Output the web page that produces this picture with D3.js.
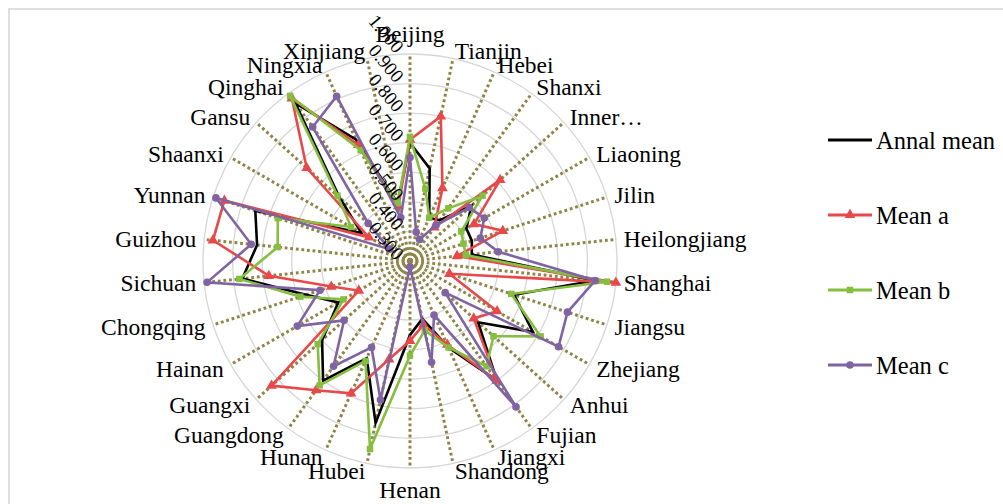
<!DOCTYPE html>
<html>
<head>
<meta charset="utf-8">
<script src="https://cdn.jsdelivr.net/npm/d3@7"></script>
<style>
  html, body { margin: 0; padding: 0; background: #ffffff; }
  svg { display: block; font-family: "Liberation Serif", "Times New Roman", serif; }
</style>
</head>
<body>
<svg id="chart" width="1003" height="504"></svg>
<script>
// Provinces around the radar, clockwise from the top
const provinces = ["Beijing", "Tianjin", "Hebei", "Shanxi", "Inner\u2026", "Liaoning", "Jilin",
  "Heilongjiang", "Shanghai", "Jiangsu", "Zhejiang", "Anhui", "Fujian", "Jiangxi", "Shandong",
  "Henan", "Hubei", "Hunan", "Guangdong", "Guangxi", "Hainan", "Chongqing", "Sichuan", "Guizhou",
  "Yunnan", "Shaanxi", "Gansu", "Qinghai", "Ningxia", "Xinjiang"];

const annalMean = [0.70, 0.62, 0.46, 0.47, 0.58, 0.52, 0.52, 0.51, 0.93, 0.67, 0.78, 0.61, 0.80, 0.62, 0.50,
  0.55, 0.86, 0.66, 0.80, 0.70, 0.58, 0.67, 0.87, 0.82, 0.85, 0.49, 0.62, 0.96, 0.75, 0.50];
const meanA = [0.71, 0.80, 0.57, 0.44, 0.71, 0.55, 0.63, 0.46, 1.00, 0.44, 0.64, 0.59, 0.80, 0.61, 0.52,
  0.57, 0.64, 0.79, 0.84, 0.93, 0.50, 0.58, 0.78, 0.97, 0.96, 0.46, 0.77, 0.98, 0.73, 0.49];
const meanB = [0.72, 0.55, 0.46, 0.52, 0.63, 0.50, 0.49, 0.49, 0.97, 0.66, 0.81, 0.68, 0.74, 0.62, 0.54,
  0.62, 0.95, 0.67, 0.82, 0.72, 0.56, 0.69, 0.88, 0.75, 0.77, 0.53, 0.63, 0.99, 0.71, 0.50];
const meanC = [0.65, 0.40, 0.38, 0.45, 0.57, 0.59, 0.55, 0.60, 0.93, 0.86, 0.88, 0.46, 0.91, 0.50, 0.65,
  0.32, 0.78, 0.62, 0.74, 0.60, 0.74, 0.62, 0.99, 0.84, 0.99, 0.38, 0.49, 0.86, 0.91, 0.45];

const seriesNames = ["Annal mean", "Mean a", "Mean b", "Mean c"];
const radialTicks = [0.3, 0.4, 0.5, 0.6, 0.7, 0.8, 0.9, 1.0];

const series = [
  { name: seriesNames[0], values: annalMean, color: "#000000", marker: null },
  { name: seriesNames[1], values: meanA, color: "#E8484A", marker: d3.symbolTriangle, size: 50 },
  { name: seriesNames[2], values: meanB, color: "#86BE3F", marker: d3.symbolSquare, size: 42 },
  { name: seriesNames[3], values: meanC, color: "#8064A2", marker: d3.symbolCircle, size: 46 }
];

const svg = d3.select("#chart");
const cx = 410, cy = 261, R = 207;

// chart area border
svg.append("rect")
  .attr("x", 9).attr("y", 9).attr("width", 1010).attr("height", 520)
  .attr("fill", "#ffffff").attr("stroke", "#d9d9d9").attr("stroke-width", 1.6);

const r = d3.scaleLinear().domain([0.3, 1.0]).range([0, R]);
const angle = d3.scaleLinear().domain([0, provinces.length]).range([0, 2 * Math.PI]);

const g = svg.append("g").attr("transform", `translate(${cx},${cy})`);

// circular gridlines
g.append("g").selectAll("circle")
  .data(radialTicks.filter(t => t > 0.3))
  .join("circle")
  .attr("r", d => r(d))
  .attr("fill", "none")
  .attr("stroke", "#d6d6d6")
  .attr("stroke-width", 1.3);

// dotted spokes
g.append("g").selectAll("line")
  .data(provinces)
  .join("line")
  .attr("x1", 0).attr("y1", 0)
  .attr("x2", (d, i) => R * Math.sin(angle(i)))
  .attr("y2", (d, i) => -R * Math.cos(angle(i)))
  .attr("stroke", "#8F8446")
  .attr("stroke-width", 3)
  .attr("stroke-dasharray", "2.8,2.8");

// series polygons
const radial = d3.lineRadial()
  .angle((d, i) => angle(i))
  .radius(d => r(d))
  .curve(d3.curveLinearClosed);

series.forEach(s => {
  const sg = g.append("g");
  sg.append("path")
    .attr("d", radial(s.values))
    .attr("fill", "none")
    .attr("stroke", s.color)
    .attr("stroke-width", 2.6)
    .attr("stroke-linejoin", "miter");
  if (s.marker) {
    sg.selectAll("path.m")
      .data(s.values)
      .join("path")
      .attr("class", "m")
      .attr("d", d3.symbol(s.marker, s.size))
      .attr("transform", (d, i) => `translate(${r(d) * Math.sin(angle(i))},${-r(d) * Math.cos(angle(i))})`)
      .attr("fill", s.color);
  }
});

// radial value labels along the first spoke
g.append("g").selectAll("text")
  .data(radialTicks)
  .join("text")
  .attr("text-anchor", "end")
  .attr("dominant-baseline", "central")
  .attr("transform", d => `translate(-10,${-r(d) - 4}) rotate(50)`)
  .attr("font-size", 19)
  .attr("fill", "#000")
  .text(d3.format(".3f"));

// province labels
const labR = R + 8;
g.append("g").selectAll("text")
  .data(provinces)
  .join("text")
  .attr("x", (d, i) => labR * Math.sin(angle(i)))
  .attr("y", (d, i) => {
    const y = -labR * Math.cos(angle(i));
    const s = Math.sin(angle(i));
    if (Math.abs(s) < 0.01) return y + (Math.cos(angle(i)) > 0 ? -12 : 14);
    return y;
  })
  .attr("text-anchor", (d, i) => {
    const s = Math.sin(angle(i));
    return Math.abs(s) < 0.01 ? "middle" : (s > 0 ? "start" : "end");
  })
  .attr("dominant-baseline", "central")
  .attr("font-size", 23.5)
  .attr("fill", "#000")
  .text(d => d);

// legend
const legend = svg.append("g").attr("transform", "translate(828,140)");
const legendStep = 75;
series.forEach((s, i) => {
  const lg = legend.append("g").attr("transform", `translate(0,${i * legendStep})`);
  lg.append("line").attr("x1", 0).attr("x2", 44).attr("y1", 0).attr("y2", 0)
    .attr("stroke", s.color).attr("stroke-width", 2.8);
  if (s.marker) {
    lg.append("path").attr("d", d3.symbol(s.marker, s.size)).attr("transform", "translate(22,0)")
      .attr("fill", s.color);
  }
  lg.append("text").attr("x", 48).attr("y", 0)
    .attr("dominant-baseline", "central")
    .attr("font-size", 24.5)
    .attr("fill", "#000")
    .text(s.name);
});
</script>
</body>
</html>
